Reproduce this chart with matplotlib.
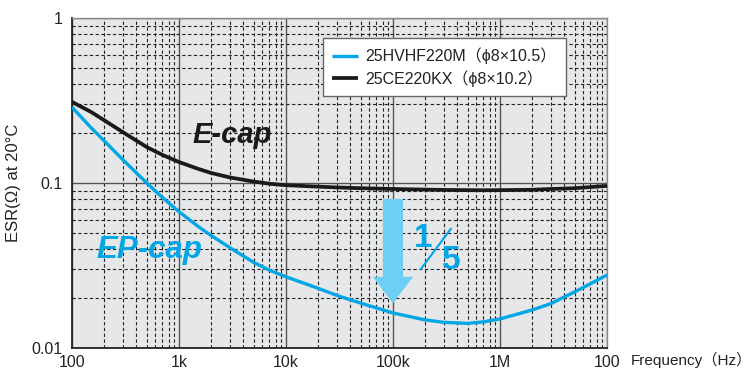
import matplotlib
matplotlib.use("Agg")
import matplotlib.pyplot as plt
from matplotlib.patches import FancyArrowPatch
from matplotlib.ticker import FixedLocator, NullFormatter, LogLocator

plt.rcParams['font.family'] = ['Liberation Sans', 'Noto Sans CJK JP', 'DejaVu Sans']

# ---- data ----
freq = [100, 150, 200, 300, 500, 700, 1e3, 1.5e3, 2e3, 3e3, 5e3, 7e3, 1e4, 2e4, 3e4,
        5e4, 7e4, 1e5, 2e5, 3e5, 5e5, 7e5, 1e6, 2e6, 3e6, 5e6, 7e6, 1e7]
esr_ep = [0.288, 0.217, 0.180, 0.138, 0.100, 0.0817, 0.067, 0.0547, 0.048, 0.0405,
          0.033, 0.0296, 0.027, 0.0230, 0.0208, 0.0187, 0.0175, 0.0163, 0.0148,
          0.0143, 0.0141, 0.0144, 0.0150, 0.0170, 0.0186, 0.0219, 0.0245, 0.0277]
esr_e = [0.31, 0.27, 0.24, 0.203, 0.165, 0.148, 0.134, 0.122, 0.115, 0.108, 0.102,
         0.099, 0.097, 0.095, 0.094, 0.093, 0.0925, 0.092, 0.0912, 0.0908, 0.0905,
         0.0904, 0.0905, 0.091, 0.092, 0.093, 0.0945, 0.096]
series_labels = ["25HVHF220M（ϕ8×10.5）", "25CE220KX（ϕ8×10.2）"]
x_ticks = [100, 1e3, 1e4, 1e5, 1e6, 1e7]
x_ticklabels = ["100", "1k", "10k", "100k", "1M", "100"]
y_ticks = [0.01, 0.1, 1]
y_ticklabels = ["0.01", "0.1", "1"]
arrow_x = 1e5
arrow_from, arrow_to = 0.08, 0.0187

blue = "#00a6e6"
arrow_c = "#6dcff6"

fig = plt.figure(figsize=(7.55, 3.72), dpi=100)
ax = fig.add_axes([72/755, 1-348/372, 535/755, 330/372])
ax.set_facecolor("#e6e7e8")
ax.set_xscale("log")
ax.set_yscale("log")
ax.set_xlim(100, 1e7)
ax.set_ylim(0.01, 1)

ax.xaxis.set_major_locator(FixedLocator(x_ticks))
ax.set_xticklabels(x_ticklabels)
ax.yaxis.set_major_locator(FixedLocator(y_ticks))
ax.set_yticklabels(y_ticklabels)
ax.xaxis.set_minor_locator(LogLocator(base=10, subs=range(2, 10), numticks=20))
ax.yaxis.set_minor_locator(LogLocator(base=10, subs=range(2, 10), numticks=20))
ax.xaxis.set_minor_formatter(NullFormatter())
ax.yaxis.set_minor_formatter(NullFormatter())
ax.tick_params(which="both", length=0, labelsize=11.5, colors="#222222")
ax.tick_params(axis="x", pad=5)
ax.tick_params(axis="y", pad=7)

ax.grid(which="minor", color="#222222", linestyle=(0, (3, 2.2)), linewidth=0.8)
ax.grid(which="major", color="#555555", linestyle="-", linewidth=1.0)
ax.set_axisbelow(True)

for s in ["left", "bottom"]:
    ax.spines[s].set_color("#222222")
    ax.spines[s].set_linewidth(1.3)
for s in ["top", "right"]:
    ax.spines[s].set_color("#8a8a8a")
    ax.spines[s].set_linewidth(1.0)

l1, = ax.plot(freq, esr_ep, color=blue, linewidth=2.4, solid_capstyle="butt", zorder=3)
l2, = ax.plot(freq, esr_e, color="#1a1a1a", linewidth=2.7, solid_capstyle="butt", zorder=3)

arr = FancyArrowPatch((arrow_x, arrow_from), (arrow_x, arrow_to),
                      arrowstyle="simple,head_length=1.9,head_width=2.9,tail_width=1.45",
                      mutation_scale=10, color=arrow_c, shrinkA=0, shrinkB=0, zorder=4,
                      linewidth=0)
ax.add_patch(arr)

ax.text(0.656, 0.333, "1", transform=ax.transAxes, color=blue, fontsize=24,
        fontweight="bold", ha="center", va="center", zorder=5)
ax.text(0.709, 0.266, "5", transform=ax.transAxes, color=blue, fontsize=24,
        fontweight="bold", ha="center", va="center", zorder=5)
ax.plot([0.652, 0.708], [0.239, 0.361], transform=ax.transAxes, color=blue,
        linewidth=1.5, zorder=5)

ax.text(0.226, 0.621, "E-cap", transform=ax.transAxes, color="#1a1a1a", fontsize=21,
        fontweight="bold", fontstyle="italic", ha="left", va="baseline", zorder=5)
ax.text(0.045, 0.273, "EP-cap", transform=ax.transAxes, color=blue, fontsize=22.5,
        fontweight="bold", fontstyle="italic", ha="left", va="baseline", zorder=5)

leg = ax.legend([l1, l2], series_labels, loc="upper left",
                bbox_to_anchor=(0.469, 0.939), borderaxespad=0, fontsize=11.5,
                fancybox=False, framealpha=1, edgecolor="#666666",
                handlelength=1.6, handletextpad=0.45, borderpad=0.6, labelspacing=0.35)
leg.get_frame().set_linewidth(1.0)
leg.set_zorder(6)
for t in leg.get_texts():
    t.set_color("#222222")

ax.set_ylabel("ESR(Ω) at 20°C", fontsize=12, color="#222222", labelpad=7)
fig.text(752/755, 1-360/372, "Frequency（Hz）", fontsize=11, color="#222222",
         ha="right", va="center")

fig.savefig("out.png", dpi=100)
